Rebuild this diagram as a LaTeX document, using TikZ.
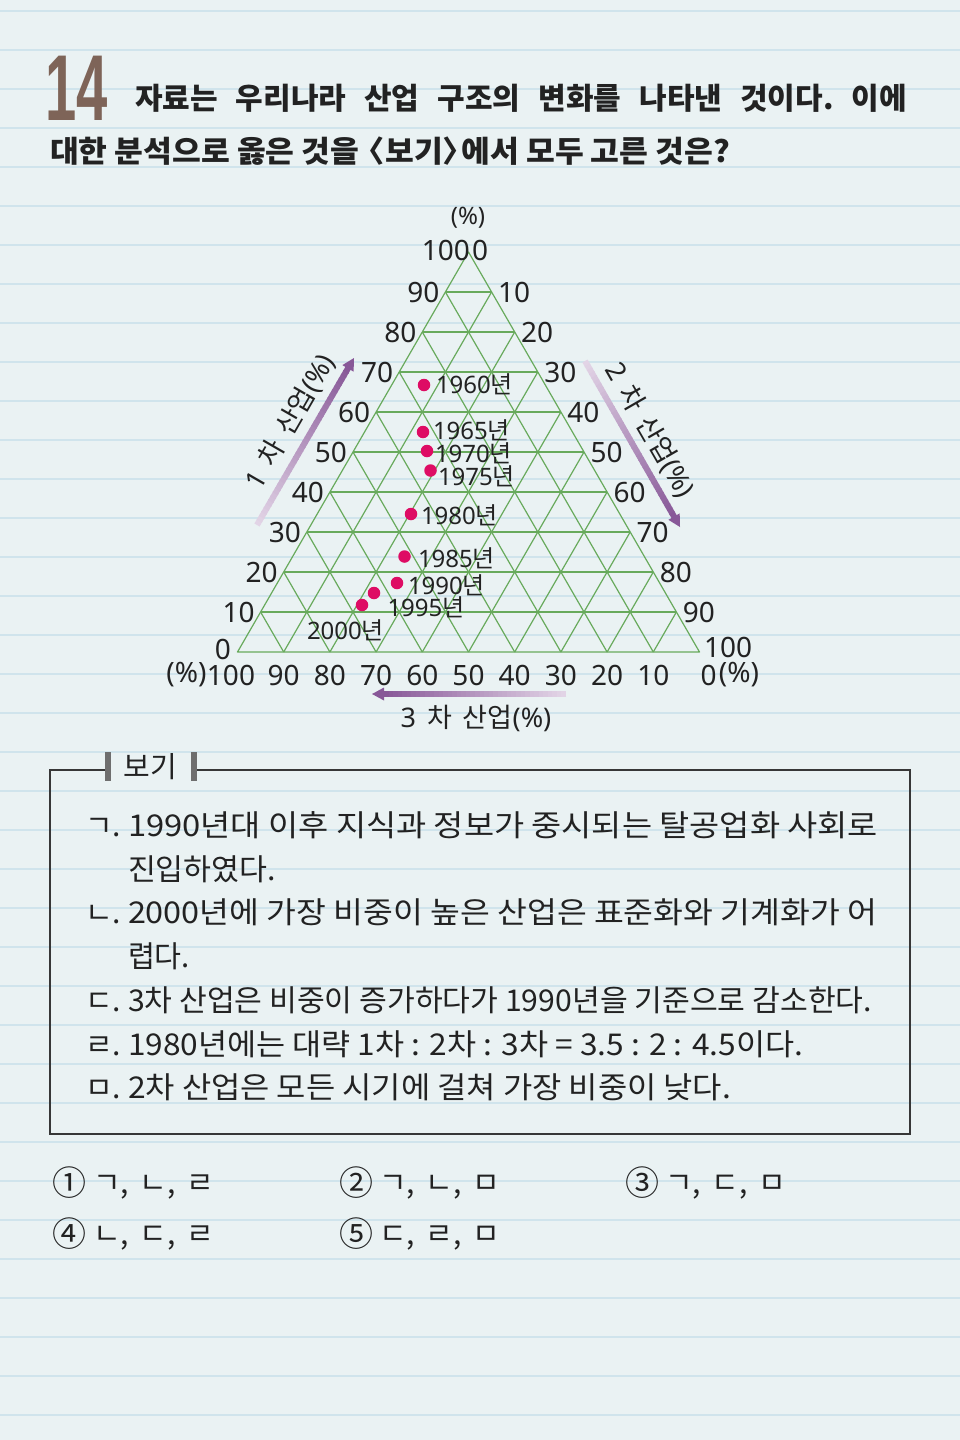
\documentclass[tikz,border=0pt]{standalone}
\usepackage{fontspec}
\usetikzlibrary{calc}
\newfontfamily\kr{Noto Sans CJK KR}
\newfontfamily\ns{Noto Sans}
\newfontfamily\lib{Liberation Sans}
\definecolor{bgc}{RGB}{234,242,243}
\definecolor{rulec}{RGB}{208,228,236}
\definecolor{gridc}{RGB}{104,170,92}
\definecolor{dotc}{RGB}{222,12,100}
\definecolor{ink}{RGB}{34,34,34}
\definecolor{brownc}{RGB}{126,100,88}
\definecolor{purD}{RGB}{136,88,152}
\definecolor{purL}{RGB}{226,212,230}
\definecolor{boxc}{RGB}{55,55,55}
\definecolor{barc}{RGB}{110,110,110}
\newcommand\yrlab[1]{{\ns #1}{\kr 년}}
\newcommand\gradarrow[2]{%
  \foreach \i in {0,...,39}{%
    \pgfmathsetmacro\pa{\i/40}%
    \pgfmathsetmacro\pb{(\i+1)/40+0.006}%
    \pgfmathtruncatemacro\pc{100*\i/39}%
    \draw[line width=6pt, color=purD!\pc!purL] ($(#1)!\pa!(#2)$) -- ($(#1)!\pb!(#2)$);
  }}
\tikzset{
  every node/.style={inner sep=0pt, outer sep=0pt, text=ink},
  rulel/.style={draw=rulec, line width=2pt},
  gridl/.style={draw=gridc, line width=1.2pt},
  tick/.style={font=\ns\fontsize{28}{30}\selectfont},
  yr/.style={anchor=west, font=\fontsize{24}{26}\selectfont},
  dotn/.style={circle, fill=dotc, minimum size=12.5pt},
  axt/.style={font=\fontsize{27}{29}\selectfont},
  bogi/.style={anchor=base west, font=\kr\fontsize{30}{32}\selectfont},
  ans/.style={anchor=base, font=\kr\fontsize{34}{36}\selectfont},
  anst/.style={anchor=base west, font=\kr\fontsize{30}{32}\selectfont},
  barn/.style={fill=barc, minimum width=6pt, minimum height=29pt},
  boxline/.style={draw=boxc, line width=2pt},
  headf/.style={fill=purD}
}
\begin{document}
\begin{tikzpicture}[x=1pt,y=-1pt]
\useasboundingbox (0,0) rectangle (960,1440);
\fill[bgc] (0,0) rectangle (960,1440);
\foreach \k in {0,...,36}{\draw[rulel] (0,{11+39*\k}) -- (960,{11+39*\k});}

% title
\node[anchor=base west, text=brownc] (qn) at (45,120) {\scalebox{0.6}[1]{\lib\bfseries\fontsize{93.6}{95}\selectfont 14}};
\node[anchor=base west, font=\kr\bfseries\fontsize{30}{32}\selectfont] (q1) at (135,109) {\frenchspacing\makebox[772pt][s]{자료는 우리나라 산업 구조의 변화를 나타낸 것이다. 이에}};
\node[anchor=base west, font=\kr\bfseries\fontsize{30}{32}\selectfont] (q2) at (50,162) {\resizebox{680pt}{\height}{대한 분석으로 옳은 것을 \kern-12pt〈보기〉\kern-12pt 에서 모두 고른 것은?}};

% triangle
\coordinate (A) at (237.5,652);
\coordinate (B) at (699.5,652);
\coordinate (C) at (468.5,252);
\foreach \k [evaluate=\k as \f using \k/10] in {1,...,9}{
  \draw[gridl] ($(A)!\f!(C)$) -- ($(B)!\f!(C)$);
  \draw[gridl] ($(A)!\f!(B)$) -- ($(C)!\f!(B)$);
  \draw[gridl] ($(A)!\f!(B)$) -- ($(A)!\f!(C)$);
}
\draw[gridl, line join=round] (A) -- (B) -- (C) -- cycle;

% tick labels
\foreach \m [evaluate=\m as \f using \m/100] in {10,20,...,90}{
  \node[tick, anchor=east] (L\m) at ($(A)!\f!(C)+(-6,0)$) {\m};
  \node[tick, anchor=west] (R\m) at ($(C)!\f!(B)+(6.5,0)$) {\m};
  \node[tick] (T\m) at ($(B)!\f!(A)+(0,23)$) {\m};
}
\node[tick, anchor=east] (L0) at (231,649) {0};
\node[tick, anchor=east] (L100) at (470,250) {100};
\node[tick, anchor=west] (R0) at (472,250) {0};
\node[tick, anchor=west] (R100) at (704,647) {100};
\node[tick] (T100) at (231,675) {100};
\node[tick] (T0) at (708.5,675) {0};
\node[tick] (pl) at (186.5,675) {(\%)};
\node[tick] (pr) at (739,675) {(\%)};
\node[font=\ns\fontsize{24}{26}\selectfont] (pt) at (468,218) {(\%)};

% data points
\node[dotn] (d1960) at (424,385) {};
\node[dotn] (d1965) at (423,432) {};
\node[dotn] (d1970) at (427,451) {};
\node[dotn] (d1975) at (430.5,470.5) {};
\node[dotn] (d1980) at (411,514) {};
\node[dotn] (d1985) at (404.5,556.5) {};
\node[dotn] (d1990) at (397,583) {};
\node[dotn] (d1995) at (374,593) {};
\node[dotn] (d2000) at (362,605) {};
\node[yr] (y1960) at (436,384) {\yrlab{1960}};
\node[yr] (y1965) at (433,430) {\yrlab{1965}};
\node[yr] (y1970) at (435,453) {\yrlab{1970}};
\node[yr] (y1975) at (438,476) {\yrlab{1975}};
\node[yr] (y1980) at (421,515) {\yrlab{1980}};
\node[yr] (y1985) at (418,558) {\yrlab{1985}};
\node[yr] (y1990) at (408,585) {\yrlab{1990}};
\node[yr] (y1995) at (387.5,607) {\yrlab{1995}};
\node[yr] (y2000) at (307,630) {\yrlab{2000}};

% axis arrows
\coordinate (a1s) at (257,525);
\coordinate (a1e) at (354,358);
\coordinate (a1h) at ($(a1e)!12pt!(a1s)$);
\gradarrow{a1s}{a1h}
\fill[headf] (a1e) -- ($(a1h)!6.5pt!90:(a1e)$) -- ($(a1h)!6.5pt!-90:(a1e)$) -- cycle;
\coordinate (a2s) at (585,361);
\coordinate (a2e) at (680,527);
\coordinate (a2h) at ($(a2e)!12pt!(a2s)$);
\gradarrow{a2s}{a2h}
\fill[headf] (a2e) -- ($(a2h)!6.5pt!90:(a2e)$) -- ($(a2h)!6.5pt!-90:(a2e)$) -- cycle;
\coordinate (a3s) at (566,694);
\coordinate (a3e) at (372,694);
\coordinate (a3h) at ($(a3e)!12pt!(a3s)$);
\gradarrow{a3s}{a3h}
\fill[headf] (a3e) -- ($(a3h)!6.5pt!90:(a3e)$) -- ($(a3h)!6.5pt!-90:(a3e)$) -- cycle;

\node[axt, rotate=60] (t1) at (290,422) {{\ns 1}\hspace{11pt}{\kr 차}\hspace{11pt}{\kr 산업}{\ns (\%)}};
\node[axt, rotate=-60] (t2) at (650,430) {{\ns 2}\hspace{11pt}{\kr 차}\hspace{11pt}{\kr 산업}{\ns (\%)}};
\node[axt] (t3) at (476,718) {{\ns 3}\hspace{11pt}{\kr 차}\hspace{11pt}{\kr 산업}{\ns (\%)}};

% bogi box
\draw[boxline] (105,770) -- (50,770) -- (50,1134) -- (910,1134) -- (910,770) -- (197,770);
\node[barn] (bl) at (108,766.5) {};
\node[barn] (br) at (193.5,766.5) {};
\node[anchor=base, font=\kr\fontsize{29}{30}\selectfont] (bt) at (150.5,777) {보기};

\node[bogi] (j1) at (85,836.5) {ㄱ.};
\node[bogi] (s1) at (128,836.5) {\resizebox{750pt}{\height}{1990년대 이후 지식과 정보가 중시되는 탈공업화 사회로}};
\node[bogi] (s1b) at (128,880) {\resizebox{148pt}{\height}{진입하였다.}};
\node[bogi] (j2) at (85,923.8) {ㄴ.};
\node[bogi] (s2) at (128,923.8) {\resizebox{749pt}{\height}{2000년에 가장 비중이 높은 산업은 표준화와 기계화가 어}};
\node[bogi] (s2b) at (128,967.5) {\resizebox{62pt}{\height}{렵다.}};
\node[bogi] (j3) at (85,1011) {ㄷ.};
\node[bogi] (s3) at (128,1011) {\resizebox{744pt}{\height}{3차 산업은 비중이 증가하다가 1990년을 기준으로 감소한다.}};
\node[bogi] (j4) at (85,1055) {ㄹ.};
\node[bogi] (s4) at (128,1055) {\resizebox{675pt}{\height}{1980년에는 대략 1차 : 2차 : 3차 = 3.5 : 2 : 4.5이다.}};
\node[bogi] (j5) at (85,1098.6) {ㅁ.};
\node[bogi] (s5) at (128,1098.6) {\resizebox{603pt}{\height}{2차 산업은 모든 시기에 걸쳐 가장 비중이 낮다.}};

% answers
\node[ans] (o1) at (69,1195) {①};
\node[anst] (a1) at (93,1193) {ㄱ,\hspace{11pt}ㄴ,\hspace{11pt}ㄹ};
\node[ans] (o2) at (356,1195) {②};
\node[anst] (a2) at (379,1193) {ㄱ,\hspace{11pt}ㄴ,\hspace{11pt}ㅁ};
\node[ans] (o3) at (642,1195) {③};
\node[anst] (a3) at (665,1193) {ㄱ,\hspace{11pt}ㄷ,\hspace{11pt}ㅁ};
\node[ans] (o4) at (69,1246) {④};
\node[anst] (a4) at (93,1244) {ㄴ,\hspace{11pt}ㄷ,\hspace{11pt}ㄹ};
\node[ans] (o5) at (356,1246) {⑤};
\node[anst] (a5) at (379,1244) {ㄷ,\hspace{11pt}ㄹ,\hspace{11pt}ㅁ};
\end{tikzpicture}
\end{document}
